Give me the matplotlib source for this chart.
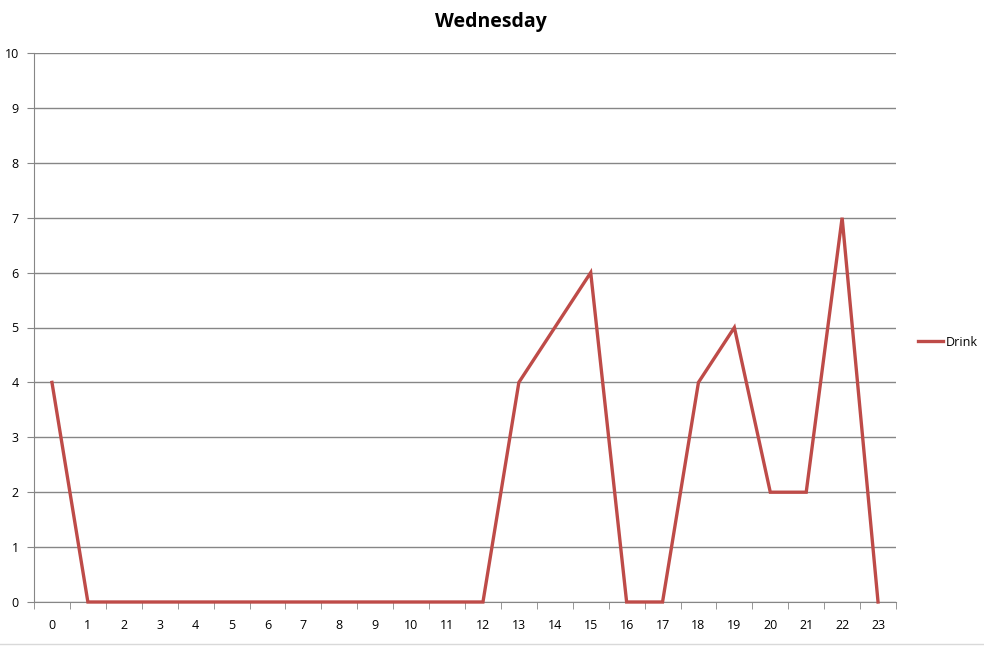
import matplotlib
matplotlib.use("Agg")
import matplotlib.pyplot as plt
from matplotlib.lines import Line2D

hours = list(range(24))
drink = [4, 0, 0, 0, 0, 0, 0, 0, 0, 0, 0, 0, 0, 4, 5, 6, 0, 0, 4, 5, 2, 2, 7, 0]
title = "Wednesday"
series_name = "Drink"

plt.rcParams['font.family'] = ['Open Sans', 'DejaVu Sans']

W, H = 984, 647
fig = plt.figure(figsize=(W/100, H/100), dpi=100)
L, R, T, B = 34, 896, 53, 602
ax = fig.add_axes([L/W, (H-B)/H, (R-L)/W, (B-T)/H])

grid_c = '#868686'
ax.plot(hours, drink, color='#BE4B48', lw=2.4, solid_joinstyle='miter', clip_on=False, zorder=3)
ax.set_xlim(-0.5, 23.5)
ax.set_ylim(0, 10)
ax.set_yticks(range(0, 11))
ax.set_xticks(hours)
ax.set_xticklabels([str(h) for h in hours])
ax.set_xticks([i - 0.5 for i in range(25)], minor=True)
ax.tick_params(axis='x', which='major', length=0, pad=12, labelsize=9, labelcolor='#000000')
ax.tick_params(axis='x', which='minor', length=5, color=grid_c, direction='out')
ax.tick_params(axis='y', length=5, color=grid_c, direction='out', pad=6, labelsize=9)
ax.yaxis.grid(True, color=grid_c, lw=1)
ax.set_axisbelow(True)
for s in ['top', 'right']:
    ax.spines[s].set_visible(False)
ax.spines['left'].set_color(grid_c)
ax.spines['bottom'].set_color(grid_c)

fig.text(491/W, 1 - 22/H, title, ha='center', va='center', fontsize=14, fontweight='bold')

handle = Line2D([0], [0], color='#BE4B48', lw=2.4)
fig.legend([handle], [series_name], loc='center left', bbox_to_anchor=(907/W, 1 - 342/H),
           frameon=False, fontsize=9, handlelength=2.0, handletextpad=0.2)

fig.add_artist(Line2D([0, 1], [1 - 644/H, 1 - 644/H], color='#D9D9D9', lw=1, transform=fig.transFigure))

fig.savefig('out.png', dpi=100)
